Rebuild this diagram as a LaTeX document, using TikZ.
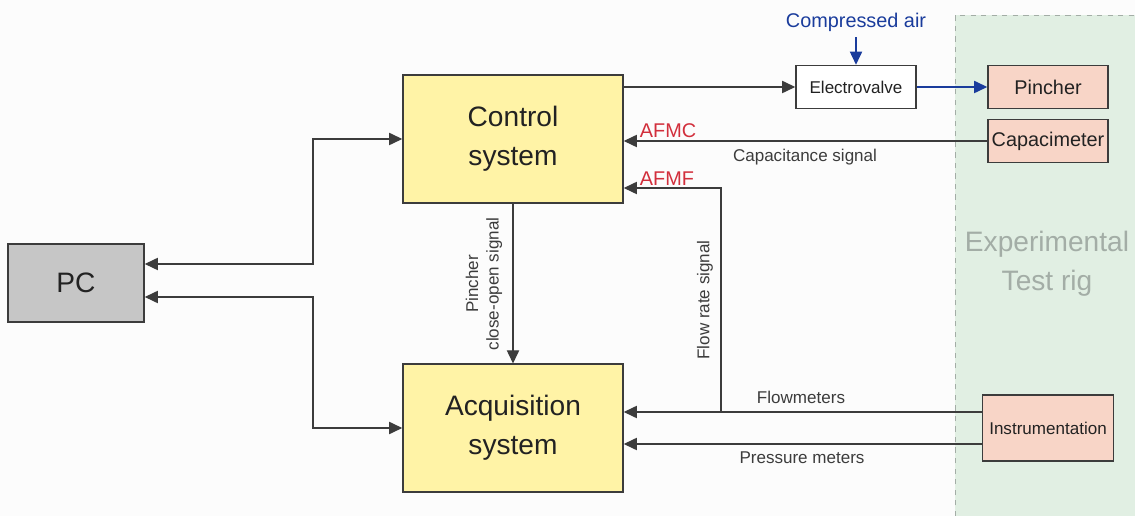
\documentclass[tikz,border=0pt]{standalone}
\usepackage{fontspec}
\setmainfont{Liberation Sans}
\usetikzlibrary{arrows.meta}
\definecolor{sysyellow}{HTML}{FFF3A6}
\definecolor{rigpink}{HTML}{F8D5C7}
\definecolor{pcgray}{HTML}{C6C6C6}
\definecolor{riggreen}{HTML}{E1EFE3}
\definecolor{airblue}{HTML}{1A3C9C}
\definecolor{afmred}{HTML}{D22F3C}
\definecolor{riggray}{HTML}{A3ADA6}
\definecolor{wire}{HTML}{3C3C3C}
\definecolor{ink}{HTML}{222222}
\newcommand{\bigtxt}{\fontsize{16}{22}\selectfont}
\newcommand{\midtxt}{\fontsize{11.3}{13.5}\selectfont}
\newcommand{\smalltxt}{\fontsize{9.7}{11.6}\selectfont}
\tikzset{
	blk/.style={draw=wire, line width=0.9pt, inner sep=0pt, align=center, text=ink},
	sysblk/.style={blk, fill=sysyellow, minimum width=4.4cm, minimum height=2.55cm, font=\bigtxt},
	rigblk/.style={blk, fill=rigpink, minimum width=2.4cm, minimum height=0.86cm, font=\midtxt},
	sig/.style={draw=wire, line width=0.7pt, -{Triangle[length=7.5pt,width=7pt]}},
	sigboth/.style={draw=wire, line width=0.7pt, {Triangle[length=7.5pt,width=7pt]}-{Triangle[length=7.5pt,width=7pt]}},
	air/.style={draw=airblue, line width=0.7pt, -{Triangle[length=7.5pt,width=7pt]}},
	lbl/.style={font=\smalltxt, text=wire, inner sep=1pt},
	afm/.style={font=\midtxt, text=afmred, inner sep=1pt}
}
\begin{document}
\begin{tikzpicture}[x=0.02cm, y=-0.02cm]

	\fill[black!1] (0,0) rectangle (1135,516); \useasboundingbox (0,0) rectangle (1135,516);
	\fill[riggreen] (955,15) rectangle (1135,516); \draw[riggray, dashed, line width=0.5pt]
        (955,516) -- (955,15) -- (1135,15);
	\node[font=\bigtxt, text=riggray, align=center] (rig) at (1047,264) {Experimental\\Test rig};

	\node[sysblk] (ctrl) at (513,139) {Control\\system}; \node[sysblk] (acq)
        at (513,428) {Acquisition\\system};
	\node[blk, fill=pcgray, minimum width=2.72cm, minimum height=1.56cm, font=\bigtxt] (pc)
        at (76,283) {PC};
	\node[blk, fill=white, minimum width=2.4cm, minimum height=0.86cm, font=\smalltxt] (valve)
        at (856,87) {Electrovalve};
	\node[rigblk] (pinch) at (1048,87) {Pincher}; \node[rigblk] (capa) at (1048,141)
        {Capacimeter};
	\node[rigblk, minimum width=2.62cm, minimum height=1.32cm, font=\smalltxt] (instr)
        at (1048,428) {Instrumentation};
	\node[font=\midtxt, text=airblue] (airsrc) at (856,22) {Compressed air};

	\draw[sig] (ctrl.east |- valve.west) -- (valve.west); \draw[air] (valve.east) --
        (pinch.west); \draw[air] (airsrc.south) -- (valve.north);
	\draw[sig] (capa.west) -- (ctrl.east |- capa.west);
	\coordinate (tap) at (721,412);
	\draw[sig] (instr.west |- tap) -- (acq.east |- tap); \draw[sig] (tap) --
        (721,188) -- (ctrl.east |- 0,188);
	\draw[sig] (instr.west |- 0,444) -- (acq.east |- 0,444);
	\draw[sig] (ctrl.south) -- (acq.north);
	\draw[sigboth] (pc.east |- 0,264) -- (313,264) -- (313,139) -- (ctrl.west);
	\draw[sigboth] (pc.east |- 0,297) -- (313,297) -- (313,428) -- (acq.west);

	\node[afm] (afmc) at (668,131) {AFMC}; \node[afm] (afmf) at (667,179) {AFMF};
	\node[lbl] (capsig) at (805,157) {Capacitance signal};
	\node[lbl] (fmlbl) at (801,397) {Flowmeters}; \node[lbl] (pmlbl) at (802,458)
        {Pressure meters};
	\node[lbl, rotate=90] (frsig) at (705,300) {Flow rate signal};
	\node[lbl, rotate=90, align=center] (pinsig) at (484,284) {Pincher\\close-open signal};
      \end{tikzpicture}
\end{document}
